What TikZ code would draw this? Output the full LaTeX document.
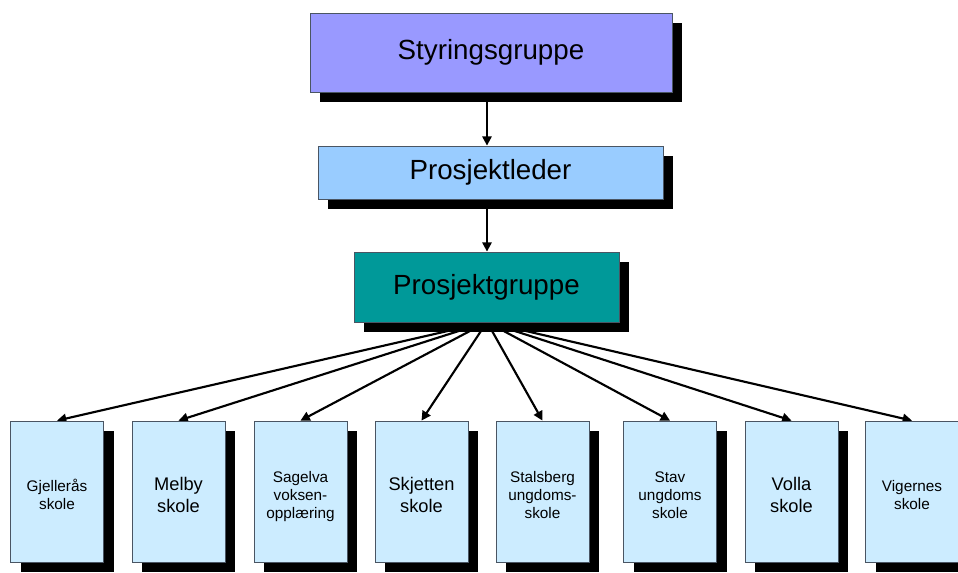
\documentclass[tikz,border=0pt]{standalone}
\usepackage{fontspec}
\setmainfont{Liberation Sans}
\usetikzlibrary{shadows,arrows.meta,backgrounds}
\definecolor{sgfill}{HTML}{9999FF}
\definecolor{plfill}{HTML}{99CCFF}
\definecolor{pgfill}{HTML}{009999}
\definecolor{skfill}{HTML}{CCECFF}
\definecolor{edge}{HTML}{4A5563}
\newcommand{\lowtext}[1]{\raisebox{-4pt}[\height][\depth]{\begin{tabular}{@{}c@{}}#1\end{tabular}}}
\tikzset{
  box/.style={draw=edge, line width=0.6pt, inner sep=0pt,
    drop shadow={shadow xshift=7.5pt, shadow yshift=-7.5pt, fill=black, opacity=1}},
  topbox/.style={box, font=\fontsize{20.8}{25}\selectfont},
  school/.style={box, fill=skfill, minimum width=69.75pt, minimum height=105.75pt},
  small/.style={font=\fontsize{11.5}{13.7}\selectfont},
  large/.style={font=\fontsize{13.7}{16.3}\selectfont},
  conn/.style={line width=1.6pt, -{Triangle[length=7pt,width=7pt]}}
}
\begin{document}
\begin{tikzpicture}[x=0.75pt,y=-0.75pt]
\useasboundingbox (0,0) rectangle (958,573);
\node[topbox, fill=sgfill, minimum width=271.5pt, minimum height=59.25pt] (sg) at (491,52.5) {Styringsgruppe};
\node[topbox, fill=plfill, minimum width=258.75pt, minimum height=39.75pt] (pl) at (490.5,172.5) {Prosjektleder};
\node[topbox, fill=pgfill, minimum width=198.75pt, minimum height=52.5pt] (pg) at (486.5,287) {Prosjektgruppe};
\node[school, small] (b1) at (57,491.5) {\lowtext{Gjellerås\\skole}};
\node[school, large] (b2) at (178.5,491.5) {\lowtext{Melby\\skole}};
\node[school, small] (b3) at (300.5,491.5) {\lowtext{Sagelva\\voksen-\\opplæring}};
\node[school, large] (b4) at (421.5,491.5) {\lowtext{Skjetten\\skole}};
\node[school, small] (b5) at (542.5,491.5) {\lowtext{Stalsberg\\ungdoms-\\skole}};
\node[school, small] (b6) at (670,491.5) {\lowtext{Stav\\ungdoms\\skole}};
\node[school, large] (b7) at (791.5,491.5) {\lowtext{Volla\\skole}};
\node[school, small] (b8) at (912,491.5) {\lowtext{Vigernes\\skole}};
\coordinate (hub) at (487,322);
\begin{scope}[on background layer]
\draw[conn] (sg.south -| hub) -- (pl.north -| hub);
\draw[conn] (pl.south -| hub) -- (pg.north -| hub);
\foreach \b in {b1,b2,b3,b4,b5,b6,b7,b8}
  \draw[conn] (hub) -- (\b.north);
\end{scope}
\end{tikzpicture}
\end{document}
